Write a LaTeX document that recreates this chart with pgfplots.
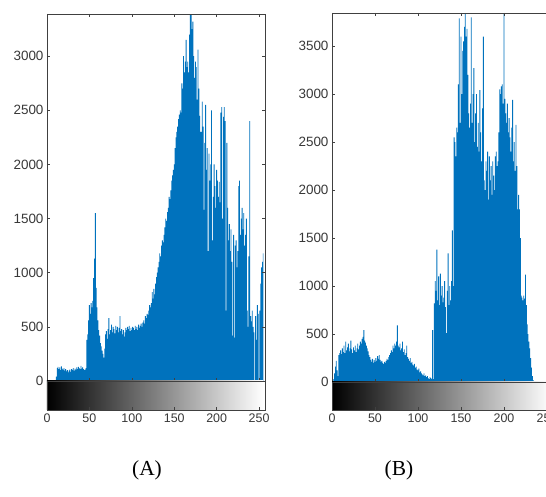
\documentclass[border=0pt]{standalone}
\usepackage{fontspec}
\setmainfont{Liberation Serif}
\setsansfont{Liberation Sans}
\usepackage{pgfplots}
\usepackage{pgfplotstable}
\pgfplotsset{compat=1.18}

\definecolor{matblue}{HTML}{0072BD}
\definecolor{axgray}{HTML}{404040}

% gray-level counts, one row per level 0..255
\pgfplotstableread[row sep=\\]{
y\\
0\\0\\0\\0\\0\\0\\0\\0\\0\\0\\
0\\40\\120\\130\\110\\125\\100\\135\\115\\105\\
120\\95\\110\\90\\100\\80\\95\\105\\85\\110\\
100\\120\\95\\115\\105\\125\\110\\130\\120\\110\\
140\\115\\125\\110\\100\\105\\120\\380\\430\\560\\
700\\620\\720\\680\\740\\950\\1130\\1550\\860\\680\\
560\\470\\420\\350\\320\\280\\250\\215\\300\\430\\
460\\390\\480\\580\\430\\470\\520\\450\\500\\480\\
440\\510\\470\\500\\450\\490\\600\\460\\480\\430\\
470\\410\\450\\490\\470\\500\\480\\510\\460\\490\\
470\\500\\490\\470\\510\\480\\500\\470\\520\\490\\
510\\530\\500\\540\\560\\530\\600\\580\\620\\610\\
650\\700\\680\\720\\820\\760\\850\\800\\900\\960\\
1000\\1050\\1100\\1180\\1150\\1250\\1300\\1280\\1350\\1420\\
1500\\1480\\1560\\1600\\1700\\1680\\1760\\1850\\1900\\1950\\
2000\\2150\\2250\\2300\\2350\\2420\\2460\\2500\\2480\\2750\\
2700\\3000\\2850\\2950\\3150\\2900\\2950\\2850\\3200\\3380\\
3380\\3250\\3320\\3000\\2800\\2950\\2900\\2600\\3060\\2700\\
2450\\2300\\2300\\2580\\2350\\1580\\2200\\2550\\1950\\2150\\
1200\\2100\\1850\\2000\\2500\\1300\\1700\\2000\\1800\\1600\\
1950\\1850\\1700\\1840\\1650\\2480\\2530\\1500\\2440\\2530\\
2400\\650\\2200\\1600\\1300\\1450\\1200\\1400\\1100\\420\\
1350\\400\\1250\\1300\\1050\\1200\\1800\\1850\\1350\\1500\\
1600\\1400\\1550\\1250\\1350\\1500\\650\\500\\1150\\2400\\
600\\550\\650\\500\\450\\0\\600\\380\\700\\620\\
0\\650\\900\\1050\\1100\\1180\\
}\histA

\pgfplotstableread[row sep=\\]{
y\\
0\\0\\30\\90\\160\\220\\120\\60\\280\\300\\
330\\290\\350\\310\\380\\300\\420\\330\\360\\400\\
320\\350\\430\\340\\300\\360\\330\\380\\310\\350\\
400\\340\\380\\420\\400\\450\\470\\540\\430\\410\\
380\\350\\320\\280\\260\\230\\210\\240\\200\\230\\
210\\250\\220\\270\\240\\280\\230\\210\\220\\200\\
190\\210\\200\\220\\240\\230\\260\\280\\300\\330\\
310\\380\\350\\400\\380\\420\\590\\380\\360\\400\\
330\\350\\420\\310\\340\\280\\300\\380\\260\\240\\
220\\250\\200\\210\\180\\170\\190\\150\\160\\130\\
120\\140\\100\\110\\90\\80\\70\\90\\60\\70\\
50\\60\\40\\30\\50\\40\\30\\540\\30\\820\\
1050\\950\\1380\\850\\1100\\800\\1130\\900\\1000\\830\\
880\\1050\\780\\510\\950\\1340\\800\\1000\\850\\1050\\
1580\\1000\\2550\\2500\\2350\\2650\\2600\\3100\\3790\\2700\\
3600\\3000\\3450\\3550\\3700\\3840\\3600\\3680\\3200\\2800\\
2650\\2900\\3800\\2700\\3000\\3270\\2500\\2800\\3000\\2450\\
2700\\2400\\3040\\2600\\2300\\2850\\3600\\2100\\2000\\2300\\
2200\\2400\\1900\\2350\\2100\\2250\\1950\\2300\\2150\\2000\\
2350\\2400\\2250\\2300\\2600\\3050\\3000\\3080\\3100\\2900\\
3840\\2950\\2800\\2700\\2900\\2600\\2750\\2550\\2400\\2650\\
2940\\2300\\2500\\2200\\2680\\2250\\1800\\1950\\1800\\1500\\
900\\880\\850\\900\\870\\1120\\800\\600\\500\\420\\
350\\250\\150\\60\\20\\0\\0\\0\\0\\0\\
0\\0\\0\\0\\0\\0\\0\\0\\0\\0\\
0\\0\\0\\0\\0\\0\\
}\histB

\pgfplotsset{
  common/.style={
    scale only axis, anchor=south west,
    xmin=0, xmax=257,
    axis on top,
    axis line style={axgray, line width=0.5pt},
    tick style={axgray, line width=0.5pt},
    major tick length=3bp,
    tick align=inside,
    xtick={0,50,...,250},
    scaled ticks=false,
    /pgf/number format/1000 sep={},
    /pgf/number format/assume math mode=true,
    tick label style={text=black!78},
  },
  hist/.style={
    common,
    ymin=0,
    xticklabels={},
    yticklabel style={font=\sffamily\fontsize{13.5}{16}\selectfont},
  },
  strip/.style={
    common,
    ymin=0, ymax=1, ytick=\empty,
    xtick pos=left,
    xticklabel style={font=\sffamily\fontsize{12.5}{15}\selectfont},
  },
}

\begin{document}
\begin{tikzpicture}
% (A)
\begin{axis}[hist, at={(47bp,116bp)}, width=218bp, height=367bp,
  ymax=3390, ytick={0,500,...,3000}]
  \addplot[const plot mark mid, fill=matblue, draw=none]
    table[x expr=\coordindex, y=y] {\histA} \closedcycle;
\end{axis}
\begin{axis}[strip, at={(47bp,87bp)}, width=218bp, height=29bp]
  \fill[left color=black, right color=white] (axis cs:0,0) rectangle (axis cs:255,1);
\end{axis}
% (B)
\begin{axis}[hist, at={(332bp,115bp)}, width=221bp, height=369bp,
  ymax=3845, ytick={0,500,...,3500}]
  \addplot[const plot mark mid, fill=matblue, draw=none]
    table[x expr=\coordindex, y=y] {\histB} \closedcycle;
\end{axis}
\begin{axis}[strip, at={(332bp,87bp)}, width=221bp, height=28bp]
  \fill[left color=black, right color=white] (axis cs:0,0) rectangle (axis cs:255,1);
\end{axis}
\node[font=\fontsize{21.5}{25}\selectfont] at (147bp,27bp) {(A)};
\node[font=\fontsize{21.5}{25}\selectfont] at (399bp,27bp) {(B)};
\pgfresetboundingbox
\useasboundingbox (0,0) rectangle (546bp,497bp);
\end{tikzpicture}
\end{document}
